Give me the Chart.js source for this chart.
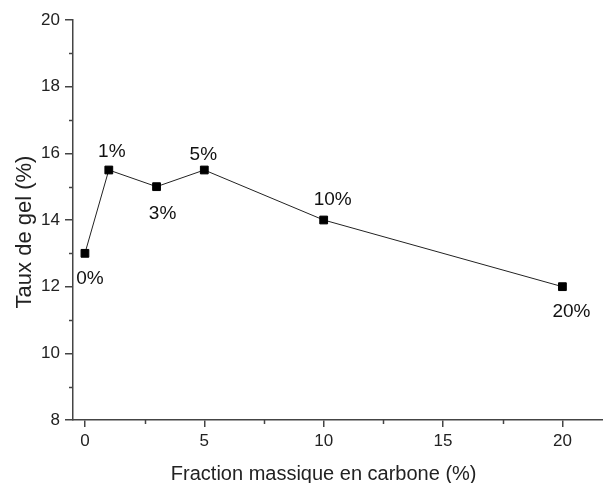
<!DOCTYPE html>
<html>
<head>
<meta charset="utf-8">
<script src="https://cdn.jsdelivr.net/npm/chart.js@4.4.1/dist/chart.umd.min.js"></script>
<style>
  html, body { margin: 0; padding: 0; background: #fff; }
  #wrap { width: 603px; height: 483px; }
</style>
</head>
<body>
<div id="wrap"><canvas id="chart" width="603" height="483"></canvas></div>
<script>
// data
const carbonFraction = [0, 1, 3, 5, 10, 20];
const gelRate = [13, 15.5, 15, 15.5, 14, 12];
const pointLabels = ["0%", "1%", "3%", "5%", "10%", "20%"];
const yMinorTicks = [9, 11, 13, 15, 17, 19];
const xMinorTicks = [2.5, 7.5, 12.5, 17.5];
const xTitle = 'Fraction massique en carbone (%)';
const yTitle = 'Taux de gel (%)';

const axisColor = '#444';
const font = "'Liberation Sans', Arial, sans-serif";

// small ticks, % labels next to points, axis titles
const extras = {
  id: 'extras',
  afterDraw(chart, args, opts) {
    const ctx = chart.ctx;
    const xs = chart.scales.x, ys = chart.scales.y;
    const area = chart.chartArea;
    ctx.save();
    ctx.strokeStyle = axisColor;
    ctx.lineWidth = 1.5;
    yMinorTicks.forEach(v => {
      const py = Math.round(ys.getPixelForValue(v)) + 0.5;
      ctx.beginPath();
      ctx.moveTo(area.left, py);
      ctx.lineTo(area.left - 4, py);
      ctx.stroke();
    });
    xMinorTicks.forEach(v => {
      const px = Math.round(xs.getPixelForValue(v)) + 0.5;
      ctx.beginPath();
      ctx.moveTo(px, area.bottom);
      ctx.lineTo(px, area.bottom + 4);
      ctx.stroke();
    });

    ctx.fillStyle = '#111';
    ctx.font = '19px ' + font;
    ctx.textAlign = 'center';
    ctx.textBaseline = 'middle';
    chart.getDatasetMeta(0).data.forEach((pt, i) => {
      const o = opts.labelOffsets[i];
      ctx.fillText(pointLabels[i], pt.x + o[0], pt.y + o[1]);
    });

    // axis titles
    ctx.fillStyle = '#222';
    ctx.textBaseline = 'alphabetic';
    ctx.font = '20px ' + font;
    ctx.fillText(xTitle, xs.getPixelForValue(10), 480);
    ctx.translate(31, (area.top + area.bottom) / 2 + 12);
    ctx.rotate(-Math.PI / 2);
    ctx.font = '22px ' + font;
    ctx.fillText(yTitle, 0, 0);
    ctx.restore();
  }
};

new Chart(document.getElementById('chart').getContext('2d'), {
  type: 'line',
  data: {
    datasets: [{
      data: carbonFraction.map((x, i) => ({ x: x, y: gelRate[i] })),
      borderColor: '#222',
      borderWidth: 1,
      pointStyle: 'rect',
      pointRadius: 5.5,
      pointBackgroundColor: '#000',
      pointBorderColor: '#000',
      pointBorderWidth: 1,
      tension: 0
    }]
  },
  options: {
    responsive: false,
    animation: false,
    events: [],
    layout: { autoPadding: false, padding: { top: 20, right: 0, left: 0, bottom: 0 } },
    plugins: {
      legend: { display: false },
      tooltip: { enabled: false },
      extras: { labelOffsets: [[5, 25], [3, -18], [6, 27], [-1, -15], [9, -20], [9, 25]] }
    },
    scales: {
      x: {
        type: 'linear',
        min: -0.5,
        max: 21.7,
        afterBuildTicks(scale) {
          scale.ticks = [0, 5, 10, 15, 20].map(v => ({ value: v }));
        },
        afterFit(scale) {
          scale.height = 63;
          scale.paddingLeft = 0;
          scale.paddingRight = 0;
        },
        border: { color: axisColor, width: 1.5 },
        grid: { drawOnChartArea: false, color: axisColor, lineWidth: 1.5, tickLength: 7 },
        ticks: { color: '#222', font: { family: font, size: 17 }, padding: 4 }
      },
      y: {
        type: 'linear',
        min: 8,
        max: 20,
        afterBuildTicks(scale) {
          scale.ticks = [8, 10, 12, 14, 16, 18, 20].map(v => ({ value: v }));
        },
        afterFit(scale) { scale.width = 73; },
        border: { color: axisColor, width: 1.5 },
        grid: { drawOnChartArea: false, color: axisColor, lineWidth: 1.5, tickLength: 8 },
        ticks: { color: '#222', font: { family: font, size: 17 }, padding: 5 }
      }
    }
  },
  plugins: [extras]
});
</script>
</body>
</html>
